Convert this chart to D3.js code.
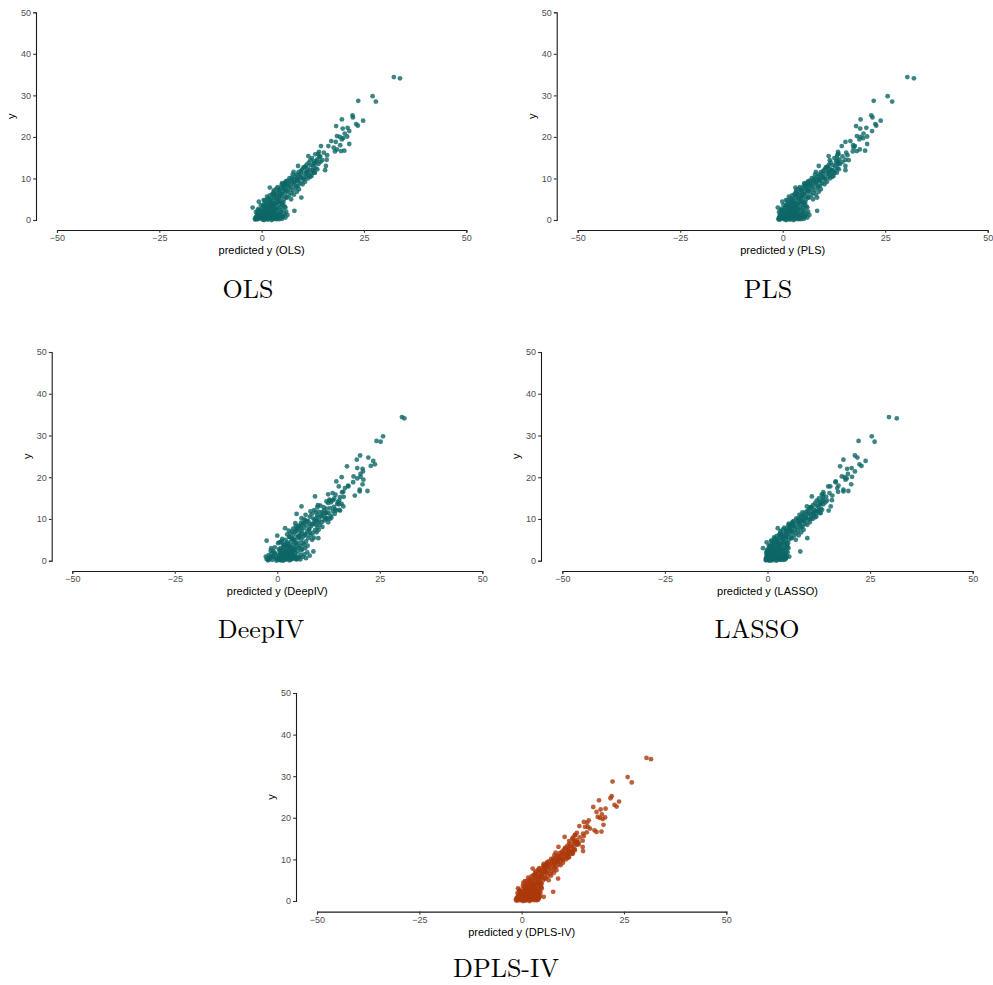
<!DOCTYPE html>
<html>
<head>
<meta charset="utf-8">
<script src="https://cdn.jsdelivr.net/npm/d3@7"></script>
<style>
  body { margin: 0; background: #fff; }
  svg { display: block; }
</style>
</head>
<body>
<div id="chart"></div>
<script>
// observed y, shared by every model
const observedY = [
  34.4, 34.1, 29.8, 28.5, 28.7, 25.2, 24.7, 24.2, 23.9, 23.1,
  22.7, 22.6, 22.2, 22.0, 21.4, 20.8, 20.2, 20.1, 20.0, 19.7,
  19.4, 19.0, 18.8, 18.3, 18.0, 17.8, 17.8, 17.4, 17.0, 16.7,
  16.6, 16.5, 16.4, 15.9, 15.6, 15.4, 15.2, 14.5, 14.4, 14.2,
  14.4, 13.6, 13.0, 13.0, 12.8, 12.0, 12.0, 11.4, 11.6, 11.2,
  11.6, 10.4, 10.0, 9.6, 9.2, 9.0, 5.4, 2.2, 7.8, 8.4,
  7.2, 6.0, 5.6, 4.8, 4.4, 3.0, 1.0,
  0.1, 0.1, 0.2, 0.2, 0.3, 0.3, 0.4, 0.4, 0.5, 0.5,
  0.6, 0.6, 0.7, 0.7, 0.8, 0.8, 0.9, 0.9, 1.0, 1.1,
  1.1, 1.2, 1.2, 1.3, 1.4, 1.4, 1.5, 1.6, 1.6, 1.7,
  1.8, 1.9, 2.0, 2.0, 2.1, 2.2, 2.3, 2.4, 2.5, 2.6,
  2.7, 2.8, 2.9, 3.0, 3.1, 3.2, 3.3, 3.4, 3.5, 3.6,
  3.7, 3.8, 3.9, 4.0, 4.1, 4.2, 4.3, 4.5, 4.6, 4.7,
  4.9, 5.0, 5.1, 5.3, 5.4, 5.5, 5.7, 5.8, 6.0, 6.1,
  6.2, 6.4, 6.5, 6.6, 6.8, 6.9, 7.0, 7.2, 7.3, 7.5,
  7.6, 7.8, 7.9, 8.0, 8.2, 8.3, 8.5, 8.6, 8.8, 8.9,
  9.1, 9.3, 9.4, 9.6, 9.7, 9.9, 10.1, 10.2, 10.4, 10.5,
  10.7, 10.8, 11.0, 11.1, 11.3, 11.5, 11.7, 11.9, 12.1, 12.3,
  12.5, 12.8, 13.2, 13.5, 13.8, 14.1, 14.6, 14.9, 15.3, 15.8, 16.2,
  0.0, 0.0, 0.1, 0.2, 0.3, 0.4, 0.5, 0.6, 0.7, 0.8,
  0.9, 1.0, 1.1, 1.3, 1.5, 1.7, 1.8, 2.1, 2.3, 2.4,
  2.6, 2.9, 3.2, 3.5, 3.8, 4.1, 4.4, 5.2, 5.6, 6.3,
  7.1, 7.7, 8.7, 9.8,
  5.0, 5.2, 5.5, 5.9, 6.1, 6.3, 6.7, 6.8, 7.0, 7.4,
  7.5, 7.9, 8.1, 8.3, 8.6, 8.9, 9.0, 9.2, 9.5, 9.7,
  10.0, 10.2, 10.3, 10.6, 10.9, 11.2, 11.4, 11.8, 12.0, 12.2,
  12.6, 12.9, 13.3, 13.6, 14.0, 3.0, 2.5, 2.0, 1.5, 1.2,
  0.9, 0.6, 0.3, 0.2, 0.4, 0.8, 1.3, 1.9, 2.4, 0.2,
  0.5, 0.9, 1.0, 1.4, 1.8, 2.2, 2.7, 3.1, 3.4, 3.9,
  4.2, 4.8, 4.4, 3.6, 2.8
];

const predOLS = [
  32.3, 33.8, 27.1, 27.9, 23.6, 22.2, 22.3, 19.6, 24.8, 23.1,
  23.5, 18.2, 21.0, 19.8, 21.4, 20.3, 18.4, 20.9, 19.1, 19.9,
  19.6, 17.0, 18.1, 21.4, 19.2, 16.3, 14.5, 17.6, 18.4, 20.2,
  19.4, 17.9, 14.0, 13.8, 16.0, 11.4, 14.1, 15.9, 14.8, 13.4,
  11.9, 12.7, 15.7, 8.9, 10.7, 15.5, 12.5, 12.9, 11.1, 9.5,
  7.8, 11.9, 10.3, 8.6, 7.0, 5.8, 9.7, 8.0, 2.0, 5.4,
  4.2, 2.9, 1.3, 0.5, -0.7, -2.2, 5.2,
  0.2, 1.5, -0.9, 2.8, 3.9, 0.9, -0.3, 2.1, 1.0, 3.3,
  4.6, -1.4, 0.4, 2.5, 1.7, 5.2, 0.0, 3.0, 1.2, 2.2,
  -0.6, 3.7, 0.7, 1.9, 4.3, -1.1, 2.7, 0.3, 1.4, 3.4,
  2.3, 0.9, -0.4, 4.8, 1.6, 2.9, 0.5, 3.8, 1.2, 2.1,
  -0.8, 4.1, 1.8, 3.0, 0.8, 2.5, 5.6, 1.5, 3.5, -0.2,
  2.2, 4.4, 1.1, 3.1, 5.0, 1.9, 3.9, 2.6, 4.6, 0.8,
  3.4, 5.5, 2.3, 4.2, 6.2, 3.0, 5.0, 3.8, 6.8, 4.5,
  2.6, 5.7, 3.9, 7.3, 5.1, 6.4, 4.4, 7.6, 5.8, 3.6,
  6.8, 8.3, 5.2, 7.2, 6.1, 8.9, 4.9, 7.7, 6.6, 9.5,
  8.1, 5.9, 9.0, 7.3, 10.2, 8.6, 6.8, 9.7, 10.9, 8.2,
  9.2, 11.5, 7.6, 10.4, 12.1, 9.0, 10.9, 12.6, 9.9, 11.3,
  13.2, 10.5, 12.0, 13.9, 11.5, 12.8, 13.6, 12.3, 14.3, 13.1, 15.2,
  0.6, 2.4, -1.6, 4.3, 1.3, 3.1, -0.6, 1.9, 3.6, -0.2,
  2.0, 4.0, 0.5, 2.9, 0.1, 1.2, 3.2, 2.6, -1.0, 1.4,
  3.4, 0.2, 1.3, 2.8, 0.6, 2.4, 1.5, 1.6, 4.4, 3.3,
  3.0, 4.6, 5.6, 7.8,
  7.2, 3.6, 6.0, 2.0, 7.9, 4.9, 2.9, 8.6, 6.1, 9.1,
  5.5, 3.9, 8.5, 6.5, 10.0, 5.0, 7.9, 10.6, 6.3, 8.8,
  11.3, 7.4, 9.5, 12.2, 8.6, 11.0, 13.0, 9.6, 11.8, 13.6,
  10.2, 12.6, 11.0, 13.1, 14.4, 5.8, 5.1, 6.0, 5.6, 6.3,
  4.9, 5.8, 5.0, -1.2, -1.6, -1.3, -0.9, -1.4, -0.5, 3.6,
  1.6, 3.5, 0.3, 2.4, 4.5, 0.1, 2.0, 4.6, 0.4, 3.3,
  5.3, 2.0, 4.2, 5.1, 3.2
];

const predPLS = [
  30.4, 32.0, 25.6, 26.7, 22.2, 21.6, 21.9, 19.0, 23.9, 22.6,
  22.8, 17.9, 20.4, 18.9, 21.8, 19.7, 18.1, 20.6, 19.0, 19.6,
  18.7, 16.5, 15.3, 20.6, 17.2, 14.4, 17.6, 17.3, 18.8, 20.1,
  18.1, 17.1, 13.5, 13.6, 15.8, 11.2, 13.2, 15.3, 16.1, 13.4,
  11.5, 13.6, 15.3, 8.8, 11.0, 15.3, 12.0, 12.6, 11.2, 9.7,
  8.1, 12.1, 10.2, 8.9, 7.2, 6.0, 8.4, 8.4, 3.1, 5.6,
  4.5, 3.2, 1.5, 0.8, -0.1, -1.2, 5.5,
  0.5, 1.8, -0.5, 3.0, 4.1, 1.2, 0.1, 2.4, 1.4, 3.6,
  4.9, -0.8, 0.7, 2.7, 2.0, 5.4, 0.3, 3.3, 1.5, 2.5,
  -0.2, 4.0, 1.0, 2.2, 4.6, -0.6, 3.0, 0.6, 1.7, 3.7,
  2.6, 1.3, 0.0, 5.1, 1.9, 3.2, 0.8, 4.1, 1.5, 2.4,
  -0.3, 4.4, 2.1, 3.3, 1.1, 2.8, 5.8, 1.8, 3.8, 0.2,
  2.5, 4.6, 1.4, 3.3, 5.2, 2.2, 4.2, 2.9, 4.9, 1.2,
  3.7, 5.7, 2.6, 4.4, 6.4, 3.3, 5.3, 4.1, 7.0, 4.8,
  2.9, 5.9, 4.2, 7.5, 5.4, 6.6, 4.7, 7.8, 6.1, 3.9,
  7.0, 8.5, 5.5, 7.4, 6.4, 9.1, 5.2, 7.9, 6.9, 9.7,
  8.3, 6.2, 9.2, 7.6, 10.4, 8.8, 7.1, 9.9, 11.1, 8.5,
  9.4, 11.7, 7.9, 10.6, 12.3, 9.3, 11.1, 12.8, 10.2, 11.5,
  13.4, 10.7, 12.3, 14.0, 11.7, 13.0, 13.8, 12.6, 14.6, 13.4, 15.5,
  0.9, 2.6, -1.0, 4.5, 1.6, 3.4, -0.2, 2.2, 3.9, 0.2,
  2.3, 4.3, 0.8, 3.2, 0.4, 1.5, 3.5, 2.9, -0.5, 1.7,
  3.7, 0.6, 1.6, 3.1, 1.0, 2.7, 1.8, 2.0, 4.7, 3.6,
  3.3, 4.9, 5.9, 8.1,
  7.4, 3.9, 6.2, 2.3, 8.1, 5.1, 3.2, 8.8, 6.3, 9.3,
  5.8, 4.2, 8.7, 6.7, 10.2, 5.3, 8.1, 10.8, 6.6, 9.0,
  11.5, 7.7, 9.8, 12.4, 8.9, 11.3, 13.2, 9.9, 12.0, 13.7,
  10.5, 12.8, 11.3, 13.3, 14.6, 6.0, 5.3, 6.2, 5.8, 6.5,
  5.1, 6.0, 5.2, -0.7, -1.0, -0.8, -0.4, -0.9, -0.1, 3.8,
  1.9, 3.8, 0.6, 2.7, 4.8, 0.5, 2.3, 4.9, 0.8, 3.6,
  5.5, 2.3, 4.5, 5.3, 3.5
];

const predDeepIV = [
  30.4, 31.0, 25.8, 25.2, 24.2, 20.2, 22.2, 19.4, 23.4, 23.8,
  22.8, 17.0, 19.5, 20.8, 20.9, 20.3, 18.6, 20.3, 15.7, 19.5,
  21.0, 14.4, 18.5, 20.8, 17.3, 17.3, 15.0, 16.5, 20.1, 22.0,
  20.1, 16.1, 15.8, 12.4, 18.9, 9.2, 15.3, 13.6, 15.1, 12.0,
  12.9, 15.7, 16.1, 5.9, 9.8, 14.4, 15.3, 11.8, 10.9, 4.7,
  9.3, 11.7, 12.8, 6.9, 9.9, 4.4, 10.0, 8.8, 1.9, 5.2,
  2.8, 0.0, 3.1, -2.6, 0.5, -1.5, -2.8,
  0.8, 2.9, -1.2, 1.6, 4.6, 0.1, 2.2, 3.6, -0.4, 2.5,
  3.8, 0.6, 1.7, 4.0, -1.8, 5.3, 1.1, 2.0, 3.2, 0.7,
  -0.9, 4.2, 2.4, 1.4, 5.7, 0.3, 3.0, -0.5, 2.7, 1.8,
  4.4, 0.9, 1.9, 3.4, 2.1, 5.0, -1.0, 2.9, 3.8, 1.2,
  0.4, 6.1, 2.5, 0.8, 3.5, 4.7, 3.1, 1.6, 5.6, 2.3,
  3.9, 1.4, 6.5, 2.6, 4.6, 0.2, 5.2, 3.3, 7.0, 1.1,
  4.1, 2.0, 5.9, 3.6, 7.6, 4.9, 2.9, 6.3, 5.1, 8.1,
  4.0, 6.8, 3.2, 8.6, 5.6, 4.3, 7.3, 6.0, 9.2, 5.0,
  7.8, 4.8, 6.6, 9.8, 5.5, 8.3, 7.1, 10.4, 6.2, 8.9,
  5.8, 10.9, 7.6, 9.5, 11.5, 6.6, 8.8, 12.1, 9.7, 7.9,
  10.6, 13.0, 6.9, 8.4, 11.2, 12.5, 10.1, 13.6, 9.0, 14.1,
  12.0, 11.3, 10.5, 15.0, 12.4, 14.8, 12.7, 13.9, 16.2, 14.2, 13.5,
  1.4, -0.2, -2.3, 3.2, 2.0, 4.9, 0.8, 0.0, 2.8, 3.4,
  1.9, 0.4, 4.3, 2.6, 1.3, -1.4, 3.7, 1.0, 2.8, 4.1,
  2.2, 1.5, -0.6, 3.0, 1.8, 4.5, 2.4, 3.8, 5.3, 6.0,
  4.6, 3.9, 8.0, 9.1,
  8.5, 1.2, 8.9, 5.4, 6.9, 2.4, 7.9, 9.6, 3.6, 10.1,
  7.7, 5.8, 11.0, 4.5, 9.4, 8.6, 6.4, 12.4, 7.2, 10.2,
  11.9, 5.9, 13.2, 10.9, 9.8, 14.0, 12.0, 8.1, 11.4, 15.1,
  12.9, 13.8, 9.9, 14.6, 13.1, 6.8, 5.9, 7.3, 6.6, 7.9,
  6.2, 7.0, 5.6, -2.0, -2.6, -1.5, -2.1, -0.7, -1.6, 0.5,
  4.4, 5.0, -1.1, 3.4, 2.3, 0.6, 3.9, 5.3, 2.8, 1.9,
  6.2, 4.2, 0.9, 7.4, 4.3
];

const predLASSO = [
  29.6, 31.5, 25.4, 26.1, 22.2, 21.3, 21.9, 18.5, 23.9, 22.4,
  22.9, 17.7, 20.5, 19.4, 21.3, 19.6, 18.1, 20.6, 18.8, 19.3,
  19.0, 16.6, 16.6, 20.4, 17.3, 15.3, 14.8, 17.0, 18.5, 19.7,
  18.5, 17.2, 13.6, 13.6, 15.8, 10.8, 13.5, 15.7, 14.5, 13.4,
  12.0, 12.8, 15.4, 9.6, 10.6, 14.9, 12.4, 13.0, 11.4, 9.8,
  8.5, 11.6, 10.5, 8.7, 7.5, 6.1, 9.7, 8.0, 2.5, 5.5,
  4.6, 3.2, 1.6, 0.9, -0.2, -1.1, 5.3,
  0.3, 1.2, 0.0, 2.5, 3.6, 0.8, 0.2, 1.9, 0.9, 3.0,
  4.2, -0.3, 0.5, 2.2, 1.6, 4.6, 0.1, 2.8, 1.3, 2.0,
  0.0, 3.4, 0.6, 1.7, 3.9, -0.2, 2.6, 0.4, 1.5, 3.2,
  2.2, 0.9, 0.1, 4.3, 1.5, 2.8, 0.6, 3.5, 1.3, 2.0,
  0.0, 3.8, 1.8, 2.9, 0.9, 2.4, 4.9, 1.5, 3.3, 0.3,
  2.2, 4.1, 1.2, 3.0, 4.7, 2.0, 3.7, 2.6, 4.5, 1.0,
  3.4, 5.2, 2.4, 4.1, 5.9, 3.0, 4.9, 3.8, 6.5, 4.5,
  2.8, 5.5, 3.9, 7.0, 5.0, 6.2, 4.5, 7.4, 5.7, 3.8,
  6.7, 8.0, 5.3, 7.1, 6.1, 8.6, 5.1, 7.6, 6.6, 9.2,
  8.0, 6.1, 8.9, 7.4, 9.9, 8.5, 7.0, 9.5, 10.6, 8.2,
  9.1, 11.2, 7.8, 10.2, 11.8, 9.1, 10.8, 12.3, 10.0, 11.3,
  13.0, 10.6, 12.1, 13.6, 11.6, 12.7, 13.5, 12.5, 14.3, 13.2, 15.1,
  0.6, 2.1, -0.4, 3.9, 1.1, 2.9, 0.0, 1.8, 3.3, 0.3,
  1.9, 3.7, 0.6, 2.7, 0.3, 1.2, 3.0, 2.4, -0.1, 1.4,
  3.2, 0.5, 1.4, 2.8, 0.8, 2.5, 1.6, 1.8, 4.4, 3.4,
  3.2, 4.7, 5.7, 7.9,
  6.9, 3.7, 5.8, 2.2, 7.6, 4.8, 3.1, 8.2, 5.9, 8.8,
  5.5, 4.1, 8.3, 6.4, 9.7, 5.2, 7.8, 10.3, 6.4, 8.7,
  11.0, 7.5, 9.4, 11.9, 8.6, 10.9, 12.7, 9.6, 11.7, 13.3,
  10.3, 12.4, 11.1, 13.0, 14.1, 5.1, 4.6, 4.9, 4.4, 4.7,
  4.1, 4.5, 4.3, -0.2, -0.4, -0.3, 0.0, -0.3, 0.1, 3.2,
  1.5, 3.2, 0.4, 2.2, 4.0, 0.3, 2.0, 4.2, 0.6, 3.2,
  5.0, 2.1, 4.0, 4.7, 3.0
];

const predDPLS = [
  30.5, 31.6, 25.9, 26.9, 22.2, 22.0, 21.7, 18.9, 23.8, 22.7,
  23.2, 17.5, 20.5, 19.3, 18.3, 19.6, 18.6, 20.4, 19.1, 19.8,
  16.4, 15.2, 16.0, 20.0, 14.1, 15.5, 16.2, 16.7, 17.8, 19.5,
  18.3, 15.9, 13.5, 13.0, 15.2, 10.5, 12.5, 14.9, 13.0, 13.6,
  11.6, 13.9, 14.9, 9.0, 11.4, 15.0, 12.3, 12.5, 11.3, 9.9,
  8.3, 11.4, 10.0, 8.8, 7.3, 6.2, 8.9, 7.7, 2.7, 5.7,
  4.3, 3.1, 1.6, 0.8, 0.4, -0.9, 5.4,
  0.1, 1.0, -0.6, 2.2, 3.4, 0.5, -0.2, 1.5, 0.7, 2.6,
  3.9, -1.1, 0.2, 2.0, 1.3, 4.3, -0.3, 2.4, 1.1, 1.8,
  -0.5, 3.1, 0.5, 1.6, 3.7, -0.8, 2.3, 0.3, 1.4, 2.9,
  2.1, 0.8, -0.2, 4.1, 1.6, 2.7, 0.6, 3.4, 1.3, 2.1,
  -0.5, 3.8, 1.9, 2.9, 1.0, 2.5, 4.8, 1.6, 3.4, 0.3,
  2.3, 4.1, 1.3, 3.1, 4.6, 2.1, 3.8, 2.8, 4.5, 1.2,
  3.5, 5.2, 2.5, 4.2, 5.9, 3.2, 4.9, 3.9, 6.4, 4.6,
  2.9, 5.6, 4.0, 7.0, 5.2, 6.2, 4.7, 7.3, 5.8, 4.0,
  6.6, 7.9, 5.4, 7.1, 6.2, 8.5, 5.3, 7.6, 6.7, 9.1,
  8.1, 6.2, 8.8, 7.5, 9.8, 8.6, 7.2, 9.5, 10.5, 8.4,
  9.2, 11.1, 8.0, 10.2, 11.8, 9.3, 10.9, 12.3, 10.2, 11.4,
  12.9, 10.7, 12.0, 13.5, 11.7, 12.7, 13.4, 12.4, 14.2, 13.1, 15.0,
  0.4, 1.9, -1.3, 3.7, 1.0, 2.6, -0.4, 1.6, 3.1, 0.0,
  1.7, 3.5, 0.5, 2.5, 0.2, 1.2, 2.9, 2.4, -0.6, 1.4,
  3.1, 0.6, 1.4, 2.8, 0.9, 2.6, 1.7, 1.9, 4.5, 3.5,
  3.4, 4.8, 5.8, 8.0,
  6.6, 3.7, 5.6, 2.4, 7.2, 4.9, 3.3, 7.9, 5.9, 8.5,
  5.6, 4.3, 8.1, 6.5, 9.5, 5.4, 7.9, 10.1, 6.6, 8.8,
  10.8, 7.7, 9.5, 11.6, 8.8, 10.9, 12.4, 9.8, 11.6, 13.0,
  10.5, 12.4, 11.2, 12.9, 13.9, 4.9, 4.4, 4.6, 4.2, 4.5,
  3.8, 4.1, 4.0, -1.0, -1.4, -1.2, -0.7, -1.0, -0.3, 3.0,
  1.3, 2.9, 0.2, 2.0, 3.8, 0.2, 2.0, 4.1, 0.7, 3.3,
  4.9, 2.3, 4.0, 4.6, 3.0
];

const xTicks = [-50, -25, 0, 25, 50];
const yTicks = [0, 10, 20, 30, 40, 50];

// panel placement on the page (pixels)
const panels = [
  { name: 'OLS',     pred: predOLS,    axisX: 36,    xl: 57,    xr: 466.3, top: 12.3, bot: 220,   axisY: 230,   tx: 248, ty: 298, color: '#0d6666' },
  { name: 'PLS',     pred: predPLS,    axisX: 556.7, xl: 577.7, xr: 987.7, top: 12.3, bot: 220,   axisY: 230,   tx: 768, ty: 298, color: '#0d6666' },
  { name: 'DeepIV',  pred: predDeepIV, axisX: 51.7,  xl: 72.3,  xr: 482.3, top: 352,  bot: 560.7, axisY: 571,   tx: 261, ty: 638, color: '#0d6666' },
  { name: 'LASSO',   pred: predLASSO,  axisX: 541,   xl: 562.3, xr: 972.7, top: 352,  bot: 560.7, axisY: 571,   tx: 757, ty: 638, color: '#0d6666' },
  { name: 'DPLS-IV', pred: predDPLS,   axisX: 296,   xl: 317,   xr: 726.3, top: 693,  bot: 901,   axisY: 911.6, tx: 506, ty: 977, color: '#ab380a' }
];

const svg = d3.select('#chart').append('svg')
  .attr('width', 993)
  .attr('height', 985);

panels.forEach(function(p) {
  const x = d3.scaleLinear().domain([-50, 50]).range([p.xl, p.xr]);
  const y = d3.scaleLinear().domain([0, 50]).range([p.bot, p.top]);
  const g = svg.append('g');

  const pts = observedY.map(function(v, i) { return [p.pred[i], v]; });
  g.append('g').selectAll('circle')
    .data(pts)
    .enter().append('circle')
      .attr('cx', d => x(d[0]))
      .attr('cy', d => y(d[1]))
      .attr('r', 2.4)
      .attr('fill', p.color)
      .attr('fill-opacity', 0.8);

  const xa = g.append('g')
    .attr('transform', 'translate(0,' + p.axisY + ')')
    .call(d3.axisBottom(x).tickValues(xTicks).tickSizeOuter(0).tickSize(2.8).tickPadding(2));
  const ya = g.append('g')
    .attr('transform', 'translate(' + p.axisX + ',0)')
    .call(d3.axisLeft(y).tickValues(yTicks).tickSizeOuter(0).tickSize(2.8).tickPadding(2.2));

  [xa, ya].forEach(function(a) {
    a.select('.domain').attr('stroke', '#1a1a1a').attr('stroke-width', 1.1);
    a.selectAll('.tick line').attr('stroke', '#333').attr('stroke-width', 1.1);
    a.selectAll('.tick text')
      .attr('fill', '#4d4d4d')
      .style('font-family', '"Liberation Sans", Arial, sans-serif')
      .style('font-size', '9px');
  });

  g.append('text')
    .attr('x', (p.xl + p.xr) / 2)
    .attr('y', p.axisY + 24)
    .attr('text-anchor', 'middle')
    .style('font-family', '"Liberation Sans", Arial, sans-serif')
    .style('font-size', '11px')
    .text('predicted y (' + p.name + ')');

  g.append('text')
    .attr('transform', 'translate(' + (p.axisX - 21) + ',' + ((p.top + p.bot) / 2) + ') rotate(-90)')
    .attr('text-anchor', 'middle')
    .style('font-family', '"Liberation Sans", Arial, sans-serif')
    .style('font-size', '11px')
    .text('y');

  svg.append('text')
    .attr('x', p.tx)
    .attr('y', p.ty)
    .attr('text-anchor', 'middle')
    .style('font-family', '"Latin Modern Roman", "CMU Serif", "Liberation Serif", serif')
    .style('font-size', '26px')
    .text(p.name);
});
</script>
</body>
</html>
